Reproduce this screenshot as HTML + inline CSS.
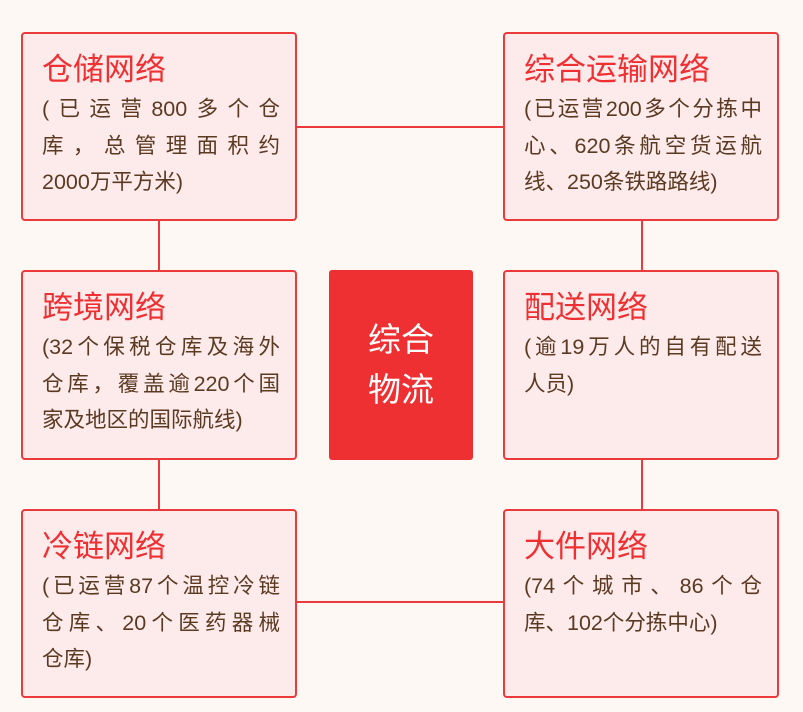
<!DOCTYPE html>
<html><head><meta charset="utf-8"><style>
body{margin:0;width:803px;height:712px;background:#fdf8f4;position:relative;overflow:hidden;font-family:"Liberation Sans","Noto Sans CJK SC",sans-serif}
.b{position:absolute;width:276px;height:185px;background:#fdeaea;border:2px solid #ea3a3c;border-radius:4px;box-sizing:border-box}
.t{position:absolute;left:19px;top:16px;font-size:31px;color:#ee3033;line-height:40px}
.d{position:absolute;left:19px;top:57px;width:238px;font-size:21.5px;color:#5b3a22;line-height:36.5px}
.d div{text-align:justify;text-align-last:justify;white-space:nowrap;height:36.5px}
.d div.l{text-align-last:left}
.ln{position:absolute;background:#ea3a3c}
.c{position:absolute;left:329px;top:270px;width:144px;height:190px;background:#ee3033;border-radius:3px;color:#fff;font-size:33px;line-height:50px;text-align:center;display:flex;align-items:center;justify-content:center}
</style></head><body>
<div class="ln" style="left:296px;top:126px;width:208px;height:2px"></div>
<div class="ln" style="left:296px;top:601px;width:208px;height:2px"></div>
<div class="ln" style="left:158px;top:219px;width:2px;height:53px"></div>
<div class="ln" style="left:158px;top:458px;width:2px;height:53px"></div>
<div class="ln" style="left:641px;top:219px;width:2px;height:53px"></div>
<div class="ln" style="left:641px;top:458px;width:2px;height:53px"></div>

<div class="b" style="left:21px;top:32px;height:189px"><div class="t">仓储网络</div><div class="d"><div>(已运营800多个仓</div><div>库，总管理面积约</div><div class="l">2000万平方米)</div></div></div>
<div class="b" style="left:503px;top:32px;height:189px"><div class="t">综合运输网络</div><div class="d"><div>(已运营200多个分拣中</div><div>心、620条航空货运航</div><div class="l">线、250条铁路路线)</div></div></div>
<div class="b" style="left:21px;top:270px;height:190px"><div class="t">跨境网络</div><div class="d"><div>(32个保税仓库及海外</div><div>仓库，覆盖逾220个国</div><div class="l">家及地区的国际航线)</div></div></div>
<div class="b" style="left:503px;top:270px;height:190px"><div class="t">配送网络</div><div class="d"><div>(逾19万人的自有配送</div><div class="l">人员)</div></div></div>
<div class="b" style="left:21px;top:509px;height:189px"><div class="t">冷链网络</div><div class="d"><div>(已运营87个温控冷链</div><div>仓库、20个医药器械</div><div class="l">仓库)</div></div></div>
<div class="b" style="left:503px;top:509px;height:189px"><div class="t">大件网络</div><div class="d"><div>(74个城市、86个仓</div><div class="l">库、102个分拣中心)</div></div></div>

<div class="c"><div>综合<br>物流</div></div>
</body></html>
